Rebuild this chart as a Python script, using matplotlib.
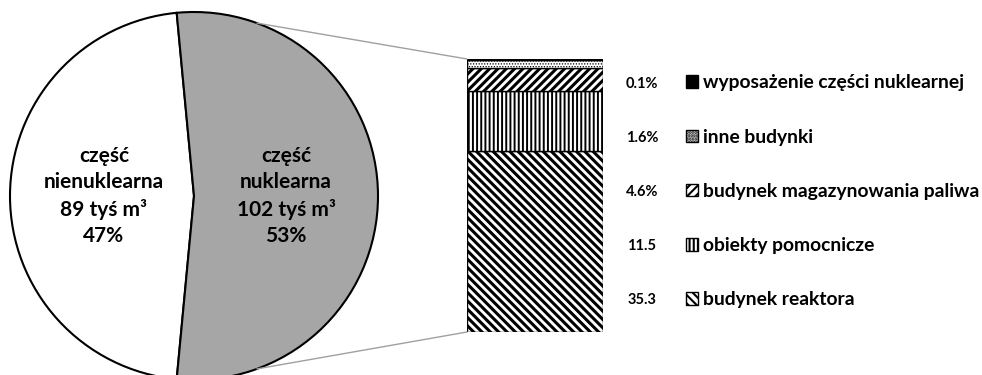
import matplotlib
matplotlib.use("Agg")
import matplotlib.pyplot as plt
from matplotlib.patches import ConnectionPatch
import numpy as np

# dane
czesci = ["część\nnienuklearna\n89 tyś m³\n47%", "część\nnuklearna\n102 tyś m³\n53%"]
udzialy = [47, 53]
kolory_kola = ["white", "#a6a6a6"]

obiekty = ["budynek reaktora", "obiekty pomocnicze", "budynek magazynowania paliwa",
           "inne budynki", "wyposażenie części nuklearnej"]
wartosci = [35.3, 11.5, 4.6, 1.6, 0.1]
etykiety_proc = ["35.3", "11.5", "4.6%", "1.6%", "0.1%"]
wzory = ["\\\\\\\\", "||||", "////", "......", ""]
grubosc_wzoru = [2.2, 1.4, 2.2, 0.6, 1.0]
wypelnienia = ["white", "white", "white", "white", "black"]

plt.rcParams['font.family'] = ['Lato', 'DejaVu Sans']
plt.rcParams['hatch.linewidth'] = 1.5

W, H = 982, 375
fig = plt.figure(figsize=(W / 100, H / 100), dpi=100)

def px(x0, y0, x1, y1):
    # prostokat w pikselach (od gory) -> wspolrzedne figury
    return [x0 / W, 1 - y1 / H, (x1 - x0) / W, (y1 - y0) / H]

# kolo
ax_pie = fig.add_axes(px(10, 12, 378, 380))
kat = 360 * udzialy[1] / 100 / 2
wedges, _ = ax_pie.pie(udzialy, colors=kolory_kola, startangle=-kat - 360 * udzialy[0] / 100,
                       wedgeprops=dict(edgecolor="black", linewidth=1.5))
ax_pie.set_xlim(-1, 1)
ax_pie.set_ylim(-1, 1)
ax_pie.set_aspect("equal")
ax_pie.axis("off")
for w in wedges:
    w.set_clip_on(False)

ax_pie.text(-0.49, 0.0, czesci[0], ha="center", va="center", fontsize=15,
            fontweight="bold", linespacing=1.38)
ax_pie.text(0.5, 0.0, czesci[1], ha="center", va="center", fontsize=15,
            fontweight="bold", linespacing=1.38)

# slupek
ax_bar = fig.add_axes(px(467, 59, 603, 332))
dol = 0
handles = []
for v, lab, h, c, g in zip(wartosci, obiekty, wzory, wypelnienia, grubosc_wzoru):
    b = ax_bar.bar(0, v, bottom=dol, width=1, color=c, edgecolor="black",
                   hatch=h, linewidth=1, label=lab)
    for p in b.patches:
        if hasattr(p, "set_hatch_linewidth"):
            p.set_hatch_linewidth(g)
    handles.append(b)
    dol += v
ax_bar.set_xlim(-0.5, 0.5)
ax_bar.set_ylim(0, dol)
ax_bar.axis("off")

# linie laczace
a = np.radians(70)
for ys, yk in [(np.sin(a), dol), (-np.sin(a), 0)]:
    con = ConnectionPatch(xyA=(np.cos(a), ys), coordsA=ax_pie.transData,
                          xyB=(-0.5, yk), coordsB=ax_bar.transData,
                          color="#a0a0a0", linewidth=1)
    fig.add_artist(con)

# legenda
leg = fig.legend(handles[::-1], obiekty[::-1], loc="upper left",
                 bbox_to_anchor=(669 / W, 1 - 57 / H), frameon=False,
                 prop=dict(weight="bold", size=13.9), handlelength=0.62,
                 handleheight=0.62, handletextpad=0.26, labelspacing=1.93)

for i, t in enumerate(etykiety_proc[::-1]):
    fig.text(642 / W, 1 - (84 + 54 * i) / H, t, ha="center", va="center",
             fontsize=10.5, fontweight="bold")

fig.savefig("out.png", dpi=100)
